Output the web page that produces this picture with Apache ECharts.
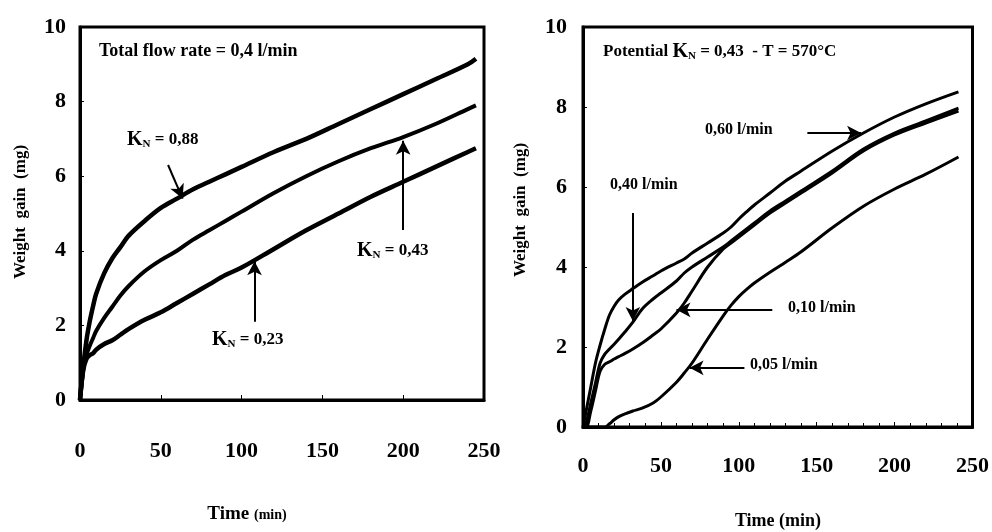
<!DOCTYPE html>
<html>
<head>
<meta charset="utf-8">
<script src="https://cdn.jsdelivr.net/npm/echarts@6/dist/echarts.min.js"></script>
<style>html,body{margin:0;padding:0;background:#fff}#c{width:992px;height:532px}</style>
</head>
<body>
<div id="c"></div>
<script>
// ---------- Left panel data (Total flow rate = 0,4 l/min) ----------
var leftTime = [0, 2, 4, 6, 8, 10, 15, 20, 25, 30, 40, 50, 60, 70, 80, 90, 100, 120, 140, 160, 180, 200, 220, 240, 245];
var kn088 = [0, 0.9, 1.6, 2.1, 2.5, 2.85, 3.4, 3.8, 4.1, 4.4, 4.8, 5.15, 5.4, 5.65, 5.85, 6.05, 6.25, 6.65, 7.0, 7.4, 7.8, 8.2, 8.6, 9.0, 9.15];
var kn043 = [0, 0.8, 1.2, 1.45, 1.65, 1.85, 2.2, 2.5, 2.8, 3.05, 3.45, 3.75, 4.0, 4.3, 4.55, 4.8, 5.05, 5.55, 6.0, 6.4, 6.75, 7.05, 7.4, 7.8, 7.9];
var kn023 = [0, 0.8, 1.1, 1.2, 1.25, 1.35, 1.5, 1.6, 1.75, 1.9, 2.15, 2.35, 2.6, 2.85, 3.1, 3.35, 3.55, 4.05, 4.55, 5.0, 5.45, 5.85, 6.25, 6.65, 6.75];

// ---------- Right panel data (Potential KN = 0,43 - T = 570°C) ----------
var rightTime = [0, 2, 5, 8, 11, 14, 17, 20, 23, 27, 32, 38, 45, 50, 60, 65, 70, 80, 90, 95, 100, 105, 110, 120, 130, 140, 160, 180, 200, 220, 241];
var flow060 = [0, 0.4, 1.0, 1.6, 2.05, 2.45, 2.8, 3.02, 3.18, 3.32, 3.46, 3.62, 3.78, 3.9, 4.1, 4.2, 4.35, 4.6, 4.85, 5.0, 5.2, 5.38, 5.55, 5.85, 6.15, 6.4, 6.9, 7.35, 7.75, 8.08, 8.38];
var flow040 = [0, 0.1, 0.6, 1.1, 1.6, 1.82, 1.95, 2.07, 2.2, 2.38, 2.62, 2.95, 3.2, 3.35, 3.65, 3.85, 4.0, 4.25, 4.5, 4.65, 4.8, 4.95, 5.1, 5.4, 5.65, 5.9, 6.4, 6.95, 7.35, 7.65, 7.97];
var flow010 = [0, 0, 0.4, 0.9, 1.4, 1.57, 1.63, 1.7, 1.76, 1.84, 1.95, 2.1, 2.3, 2.45, 2.85, 3.1, 3.4, 4.0, 4.45, 4.6, 4.75, 4.9, 5.05, 5.35, 5.6, 5.85, 6.35, 6.9, 7.3, 7.6, 7.9];
var flow005 = [0, 0, 0, 0, 0, 0, 0.08, 0.18, 0.26, 0.33, 0.4, 0.47, 0.6, 0.75, 1.12, 1.35, 1.6, 2.2, 2.78, 3.04, 3.26, 3.44, 3.6, 3.87, 4.12, 4.38, 4.98, 5.52, 5.95, 6.32, 6.75];

// ---------- Axis ticks ----------
var yTicks = [0, 2, 4, 6, 8, 10];
var xTicks = [0, 50, 100, 150, 200, 250];

// ---------- Annotation arrows (data coordinates: [t, value]) ----------
var leftArrows = [
  [[54.5, 6.3], [63.5, 5.4]],
  [[200, 4.56], [200, 6.95]],
  [[108, 2.1], [108, 3.72]]
];
var rightArrows = [
  [[144, 7.35], [178.5, 7.35]],
  [[32, 5.35], [32, 2.65]],
  [[121.5, 2.93], [60, 2.93]],
  [[103.6, 1.48], [68.4, 1.48]]
];

function zip(xs, ys) { return xs.map(function (x, i) { return [x, ys[i]]; }); }

var SERIF = "'Liberation Serif', 'Times New Roman', serif";
var chart = echarts.init(document.getElementById('c'), null, { renderer: 'canvas' });

function yAxisOpt(gridIndex, margin) {
  return {
    gridIndex: gridIndex, type: 'value', min: yTicks[0], max: yTicks[yTicks.length - 1], interval: 2,
    axisLine: { show: true, lineStyle: { color: '#000', width: 3 } },
    axisTick: { show: true, inside: true, length: 4, lineStyle: { color: '#000', width: 1 } },
    axisLabel: { color: '#000', fontFamily: SERIF, fontWeight: 'bold', fontSize: 22, margin: margin },
    splitLine: { show: false }
  };
}
function xAxisOpt(gridIndex, margin, minor) {
  return {
    gridIndex: gridIndex, type: 'value', min: xTicks[0], max: xTicks[xTicks.length - 1], interval: 50,
    axisLine: { show: true, lineStyle: { color: '#000', width: 3 } },
    axisTick: { show: true, inside: true, length: 5, lineStyle: { color: '#000', width: 1 } },
    minorTick: { show: minor, splitNumber: 5, length: 4, lineStyle: { color: '#000', width: 1 } },
    axisLabel: { color: '#000', fontFamily: SERIF, fontWeight: 'bold', fontSize: 22, margin: margin },
    splitLine: { show: false }
  };
}
function curve(name, xIdx, xs, ys, w) {
  return {
    name: name, type: 'line', xAxisIndex: xIdx, yAxisIndex: xIdx,
    data: zip(xs, ys), showSymbol: false, smooth: 0.35,
    lineStyle: { color: '#000', width: w }, silent: true
  };
}
function arrows(xIdx, list) {
  return {
    type: 'line', xAxisIndex: xIdx, yAxisIndex: xIdx, data: [], silent: true,
    markLine: {
      silent: true, symbol: ['none', 'arrow'], symbolSize: [11, 14],
      label: { show: false },
      lineStyle: { color: '#000', width: 2, type: 'solid' },
      data: list.map(function (a) { return [{ coord: a[0] }, { coord: a[1] }]; })
    }
  };
}

var richK = {
  b: { fontFamily: SERIF, fontWeight: 'bold', fontSize: 17, color: '#000' },
  big: { fontFamily: SERIF, fontWeight: 'bold', fontSize: 20, color: '#000' },
  s: { fontFamily: SERIF, fontWeight: 'bold', fontSize: 11, color: '#000', padding: [9, 0, 0, 0] }
};
function txt(x, y, text, opts) {
  opts = opts || {};
  return {
    type: 'text', left: x, top: y, silent: true,
    style: {
      text: text, fill: '#000', font: 'bold ' + (opts.size || 17) + 'px ' + SERIF,
      rich: richK
    }
  };
}

var option = {
  animation: false,
  backgroundColor: '#fff',
  grid: [
    { left: 80, top: 27, width: 404, height: 373, show: true, borderColor: '#000', borderWidth: 3 },
    { left: 583, top: 27, width: 391, height: 400, show: true, borderColor: '#000', borderWidth: 3 }
  ],
  xAxis: [xAxisOpt(0, 40, false), xAxisOpt(1, 28, true)],
  yAxis: [yAxisOpt(0, 14), yAxisOpt(1, 16)],
  series: [
    curve('KN = 0,88', 0, leftTime, kn088, 4.5),
    curve('KN = 0,43', 0, leftTime, kn043, 4),
    curve('KN = 0,23', 0, leftTime, kn023, 4.5),
    arrows(0, leftArrows),
    curve('0,60 l/min', 1, rightTime, flow060, 3),
    curve('0,40 l/min', 1, rightTime, flow040, 3),
    curve('0,10 l/min', 1, rightTime, flow010, 3),
    curve('0,05 l/min', 1, rightTime, flow005, 3),
    arrows(1, rightArrows)
  ],
  graphic: [
    txt(99, 42, 'Total flow rate = 0,4 l/min', { size: 18 }),
    txt(127, 130, '{big|K}{s|N}{b| = 0,88}'),
    txt(357, 241, '{big|K}{s|N}{b| = 0,43}'),
    txt(212, 330, '{big|K}{s|N}{b| = 0,23}'),
    txt(603, 42, '{b|Potential }{big|K}{s|N}{b| = 0,43  - T = 570°C}'),
    txt(705, 122, '0,60 l/min', { size: 16 }),
    txt(610, 177, '0,40 l/min', { size: 16 }),
    txt(788, 300, '0,10 l/min', { size: 16 }),
    txt(750, 357, '0,05 l/min', { size: 16 }),
    {
      type: 'text', x: 21, y: 212, rotation: Math.PI / 2, silent: true,
      style: { text: 'Weight  gain  (mg)', fill: '#000', font: 'bold 17px ' + SERIF, textAlign: 'center', textVerticalAlign: 'middle' }
    },
    {
      type: 'text', x: 521, y: 210, rotation: Math.PI / 2, silent: true,
      style: { text: 'Weight  gain  (mg)', fill: '#000', font: 'bold 17px ' + SERIF, textAlign: 'center', textVerticalAlign: 'middle' }
    },
    {
      type: 'text', x: 247, y: 514, silent: true,
      style: {
        text: '{t|Time }{m|(min)}', textAlign: 'center', textVerticalAlign: 'middle',
        rich: {
          t: { fontFamily: SERIF, fontWeight: 'bold', fontSize: 19, color: '#000' },
          m: { fontFamily: SERIF, fontWeight: 'bold', fontSize: 14, color: '#000', padding: [3, 0, 0, 0] }
        }
      }
    },
    {
      type: 'text', x: 778, y: 521, silent: true,
      style: { text: 'Time (min)', fill: '#000', font: 'bold 18px ' + SERIF, textAlign: 'center', textVerticalAlign: 'middle' }
    }
  ]
};
chart.setOption(option);
</script>
</body>
</html>
